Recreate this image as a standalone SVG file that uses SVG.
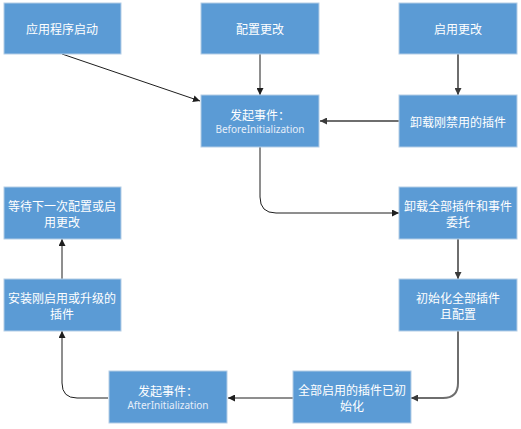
<svg xmlns="http://www.w3.org/2000/svg" width="521" height="429" viewBox="0 0 521 429">
<style>
.box{fill:#5b9bd5;stroke:#b4cde6;stroke-width:1}
.t{font-family:"Noto Sans CJK SC","Noto Sans",sans-serif;font-size:12px;fill:#ffffff;text-anchor:middle;dominant-baseline:central}
.e{font-family:"Noto Sans","Liberation Sans",sans-serif;font-size:10px;fill:#e6eef9;text-anchor:middle;dominant-baseline:central}
.c1{fill:none;stroke:#1e1e1e;stroke-width:1}
.c2{fill:none;stroke:#6e6e6e;stroke-width:2}
</style>
<defs>
<marker id="a1" viewBox="0 0 10 10" refX="10" refY="5" markerWidth="7" markerHeight="7" markerUnits="userSpaceOnUse" orient="auto"><path d="M0,0L10,5L0,10z" fill="#1e1e1e"/></marker>
<marker id="a2" viewBox="0 0 10 10" refX="10" refY="5" markerWidth="7" markerHeight="7" markerUnits="userSpaceOnUse" orient="auto"><path d="M0,0L10,5L0,10z" fill="#3a3a3a"/></marker>
</defs>
<g id="connectors">
<path class="c1" d="M62,54 L200,101" marker-end="url(#a1)"/>
<path class="c1" d="M260,54 L260,95" marker-end="url(#a1)"/>
<path class="c2" d="M458,54 L458,95" marker-end="url(#a2)"/>
<path class="c2" d="M399,121 L320,121" marker-end="url(#a2)"/>
<path class="c1" d="M260,147 L260,197 Q260,213 276,213 L399,213" marker-end="url(#a1)"/>
<path class="c2" d="M458,239 L458,279" marker-end="url(#a2)"/>
<path class="c2" d="M458,331 L458,383 Q458,398 443,398 L411,398" marker-end="url(#a2)"/>
<path class="c1" d="M293,398 L228,398" marker-end="url(#a1)"/>
<path class="c1" d="M108,398 L77,398 Q62,398 62,383 L62,331" marker-end="url(#a1)"/>
<path class="c1" d="M62,279 L62,239" marker-end="url(#a1)"/>
</g>
<g id="n1"><rect class="box" x="4" y="3" width="117" height="51"/><text class="t" x="62" y="28.5">应用程序启动</text></g>
<g id="n2"><rect class="box" x="201" y="3" width="118" height="51"/><text class="t" x="260" y="28.5">配置更改</text></g>
<g id="n3"><rect class="box" x="399" y="3" width="118" height="51"/><text class="t" x="458" y="28.5">启用更改</text></g>
<g id="n4"><rect class="box" x="201" y="95" width="118" height="52"/><text class="t" x="260" y="114.5">发起事件：</text><text class="e" x="260" y="128.5">BeforeInitialization</text></g>
<g id="n5"><rect class="box" x="399" y="95" width="118" height="52"/><text class="t" x="458" y="121">卸载刚禁用的插件</text></g>
<g id="n6"><rect class="box" x="399" y="187" width="118" height="52"/><text class="t" x="458" y="205">卸载全部插件和事件</text><text class="t" x="458" y="221">委托</text></g>
<g id="n7"><rect class="box" x="399" y="279" width="118" height="52"/><text class="t" x="458" y="297">初始化全部插件</text><text class="t" x="458" y="313">且配置</text></g>
<g id="n8"><rect class="box" x="293" y="371" width="118" height="52"/><text class="t" x="352" y="389">全部启用的插件已初</text><text class="t" x="352" y="405">始化</text></g>
<g id="n9"><rect class="box" x="109" y="371" width="118" height="52"/><text class="t" x="168" y="390.5">发起事件：</text><text class="e" x="168" y="404.5">AfterInitialization</text></g>
<g id="n10"><rect class="box" x="4" y="279" width="117" height="52"/><text class="t" x="62" y="297">安装刚启用或升级的</text><text class="t" x="62" y="313">插件</text></g>
<g id="n11"><rect class="box" x="4" y="187" width="117" height="52"/><text class="t" x="62" y="205">等待下一次配置或启</text><text class="t" x="62" y="221">用更改</text></g>
</svg>
